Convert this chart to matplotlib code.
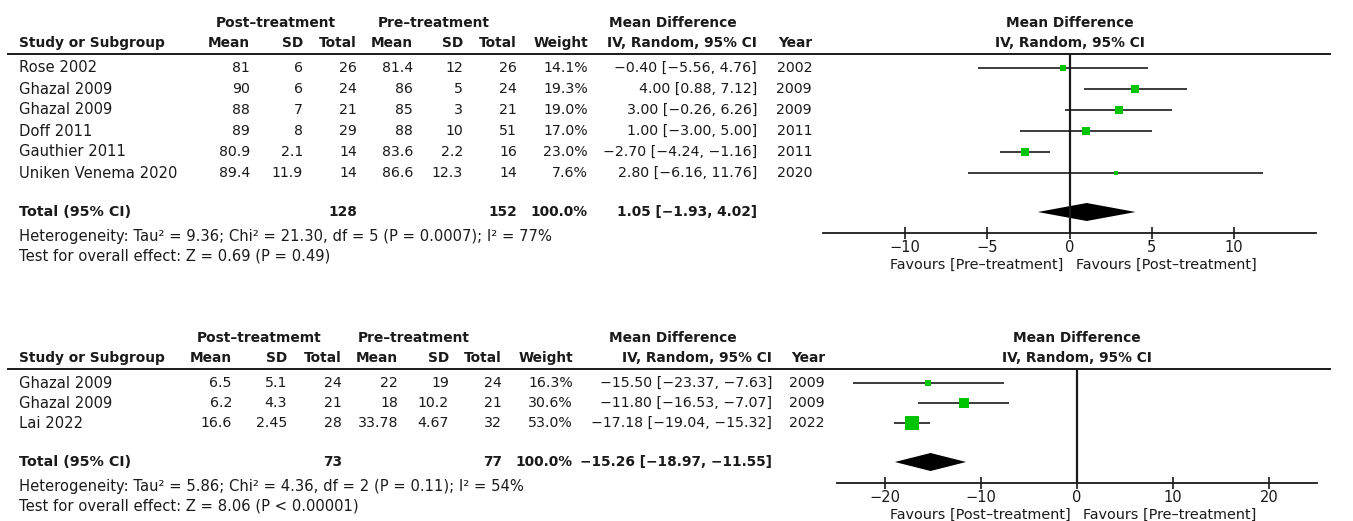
import numpy as np
import matplotlib.pyplot as plt
from matplotlib.patches import Polygon

W, H = 1353, 521
GREEN = '#00c400'
INK = '#1a1a1a'

# --- outcome 1 ---
studies1 = ["Rose 2002", "Ghazal 2009", "Ghazal 2009", "Doff 2011", "Gauthier 2011", "Uniken Venema 2020"]
post_mean1 = [81, 90, 88, 89, 80.9, 89.4]
post_sd1 = [6, 6, 7, 8, 2.1, 11.9]
post_n1 = [26, 24, 21, 29, 14, 14]
pre_mean1 = [81.4, 86, 85, 88, 83.6, 86.6]
pre_sd1 = [12, 5, 3, 10, 2.2, 12.3]
pre_n1 = [26, 24, 21, 51, 16, 14]
weight1 = [14.1, 19.3, 19.0, 17.0, 23.0, 7.6]
md1 = [-0.40, 4.00, 3.00, 1.00, -2.70, 2.80]
lo1 = [-5.56, 0.88, -0.26, -3.00, -4.24, -6.16]
hi1 = [4.76, 7.12, 6.26, 5.00, -1.16, 11.76]
year1 = [2002, 2009, 2009, 2011, 2011, 2020]
total1 = (128, 152, 1.05, -1.93, 4.02)
het1 = "Heterogeneity: Tau² = 9.36; Chi² = 21.30, df = 5 (P = 0.0007); I² = 77%"
test1 = "Test for overall effect: Z = 0.69 (P = 0.49)"
ticks1 = [-10, -5, 0, 5, 10]

# --- outcome 2 ---
studies2 = ["Ghazal 2009", "Ghazal 2009", "Lai 2022"]
post_mean2 = [6.5, 6.2, 16.6]
post_sd2 = [5.1, 4.3, 2.45]
post_n2 = [24, 21, 28]
pre_mean2 = [22, 18, 33.78]
pre_sd2 = [19, 10.2, 4.67]
pre_n2 = [24, 21, 32]
weight2 = [16.3, 30.6, 53.0]
md2 = [-15.50, -11.80, -17.18]
lo2 = [-23.37, -16.53, -19.04]
hi2 = [-7.63, -7.07, -15.32]
year2 = [2009, 2009, 2022]
total2 = (73, 77, -15.26, -18.97, -11.55)
het2 = "Heterogeneity: Tau² = 5.86; Chi² = 4.36, df = 2 (P = 0.11); I² = 54%"
test2 = "Test for overall effect: Z = 8.06 (P < 0.00001)"
ticks2 = [-20, -10, 0, 10, 20]


def m(s):
    return s.replace('-', '\u2212')


def ci(e, l, h):
    return m(f"{e:.2f} [{l:.2f}, {h:.2f}]")


fig = plt.figure(figsize=(W / 100, H / 100), dpi=100)
bg = fig.add_axes([0, 0, 1, 1])
bg.set_xlim(0, W)
bg.set_ylim(H, 0)
bg.axis('off')

FS_NUM = 10.2    # numbers in the table
FS_TXT = 10.6    # study names and footnotes
FS_BOLD = 9.9


def txt(x, y, s, ha='right', bold=False, fs=None):
    if fs is None:
        fs = FS_BOLD if bold else FS_NUM
    bg.text(x, y, s, ha=ha, va='center', fontsize=fs, color=INK,
            fontweight='bold' if bold else 'normal')


def panel(rule_y, step, cols, groups, group_names, rows, total, het, test,
          ax_px, xlim, ticks, favours):
    # column right edges: mean, sd, n, mean, sd, n, weight, ci, year
    studies, pm, psd, pn, qm, qsd, qn, wt, md, lo, hi, yr = rows
    ys = [rule_y + 14 + i * step for i in range(len(studies))]
    total_y = ys[-1] + 39
    het_y = total_y + 24
    axis_y = total_y + 21

    # header
    for cx, name in zip(groups, group_names):
        txt(cx, rule_y - 31, name, ha='center', bold=True)
    txt(19, rule_y - 11, "Study or Subgroup", ha='left', bold=True)
    heads = ["Mean", "SD", "Total", "Mean", "SD", "Total", "Weight", "IV, Random, 95% CI", "Year"]
    for x, h in zip(cols, heads):
        txt(x, rule_y - 11, h, bold=True)
    bg.plot([8, 1330], [rule_y, rule_y], color=INK, lw=1.4)

    # study rows
    for i, y in enumerate(ys):
        txt(19, y, studies[i], ha='left', fs=FS_TXT)
        vals = [f"{pm[i]:g}", f"{psd[i]:g}", f"{pn[i]}", f"{qm[i]:g}", f"{qsd[i]:g}",
                f"{qn[i]}", f"{wt[i]:.1f}%", ci(md[i], lo[i], hi[i]), f"{yr[i]}"]
        for x, v in zip(cols, vals):
            txt(x, y, v)

    # pooled row
    txt(19, total_y, "Total (95% CI)", ha='left', bold=True, fs=10.3)
    txt(cols[2], total_y, f"{total[0]}", bold=True)
    txt(cols[5], total_y, f"{total[1]}", bold=True)
    txt(cols[6], total_y, "100.0%", bold=True)
    txt(cols[7], total_y, ci(*total[2:]), bold=True)
    txt(19, het_y, het, ha='left', fs=FS_TXT)
    txt(19, het_y + 20, test, ha='left', fs=FS_TXT)

    # forest plot
    x0, x1 = ax_px
    ax = fig.add_axes([x0 / W, 1 - axis_y / H, (x1 - x0) / W, (axis_y - rule_y) / H])
    ax.set_xlim(xlim)
    ax.set_ylim(axis_y, rule_y)
    ax.patch.set_visible(False)
    for s in ['top', 'left', 'right']:
        ax.spines[s].set_visible(False)
    ax.spines['bottom'].set_color(INK)
    ax.spines['bottom'].set_linewidth(1.3)
    ax.set_yticks([])
    ax.set_xticks(ticks)
    ax.set_xticklabels([m(str(t)) for t in ticks], fontsize=10.5, color=INK)
    ax.tick_params(axis='x', direction='inout', length=9, width=1.2, pad=0.5, color=INK)
    ax.axvline(0, color=INK, lw=1.6)

    for i, y in enumerate(ys):
        ax.plot([lo[i], hi[i]], [y, y], color=INK, lw=1.2, solid_capstyle='butt')
        side = 1.3 * wt[i] ** 0.6 * 0.72
        ax.plot(md[i], y, 's', ms=side, color=GREEN, mec=GREEN, mew=0)
    e, l, h = total[2:]
    ax.add_patch(Polygon([(l, total_y), (e, total_y - 9), (h, total_y), (e, total_y + 9)],
                         closed=True, color='black', lw=0))

    zx = x0 + (0 - xlim[0]) / (xlim[1] - xlim[0]) * (x1 - x0)
    txt(zx, rule_y - 31, "Mean Difference", ha='center', bold=True)
    txt(zx, rule_y - 11, "IV, Random, 95% CI", ha='center', bold=True)
    txt(zx - 6, axis_y + 32, favours[0], ha='right', fs=10.4)
    txt(zx + 6, axis_y + 32, favours[1], ha='left', fs=10.4)


panel(54, 21,
      [250, 303, 357, 413, 463, 517, 588, 757, 812],
      [276, 434, 673], ["Post\u2013treatment", "Pre\u2013treatment", "Mean Difference"],
      (studies1, post_mean1, post_sd1, post_n1, pre_mean1, pre_sd1, pre_n1,
       weight1, md1, lo1, hi1, year1),
      total1, het1, test1, (823, 1316), (-15, 15), ticks1,
      ("Favours [Pre\u2013treatment]", "Favours [Post\u2013treatment]"))

panel(369, 20,
      [232, 287, 342, 398, 449, 502, 573, 772, 825],
      [259, 414, 673], ["Post\u2013treatmemt", "Pre\u2013treatment", "Mean Difference"],
      (studies2, post_mean2, post_sd2, post_n2, pre_mean2, pre_sd2, pre_n2,
       weight2, md2, lo2, hi2, year2),
      total2, het2, test2, (837, 1317), (-25, 25), ticks2,
      ("Favours [Post\u2013treatment]", "Favours [Pre\u2013treatment]"))

fig.savefig("out.png", dpi=100)
